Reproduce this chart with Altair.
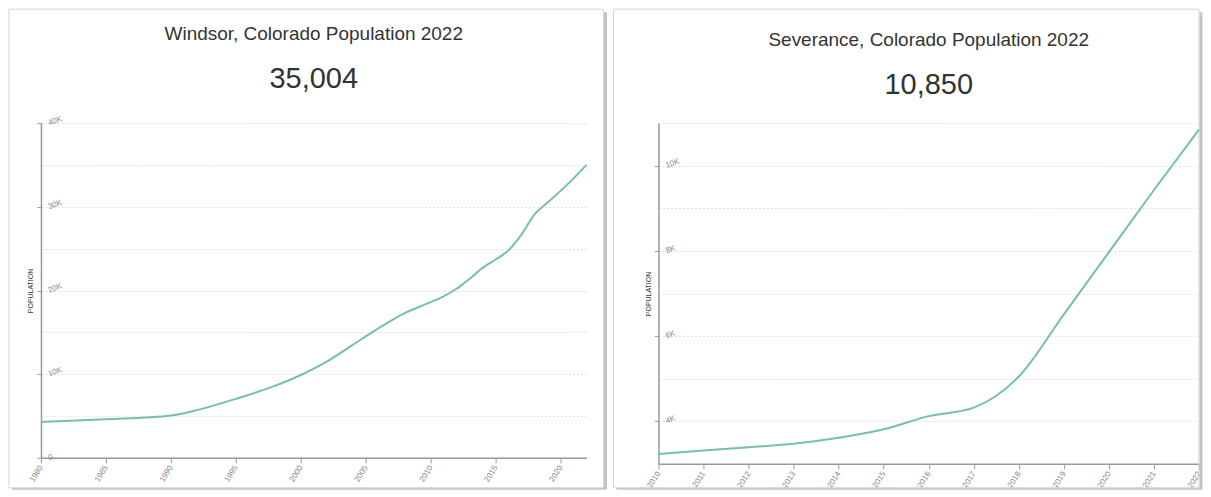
import altair as alt
import pandas as pd

# ---------------- data ----------------
windsor_years = [1980, 1985, 1990, 1992, 1995, 1998, 2000, 2002, 2004, 2006, 2008,
                 2010, 2011, 2012, 2013, 2014, 2015, 2016, 2017, 2018, 2019, 2020, 2021, 2022]
windsor_pop = [4280, 4600, 5060, 5700, 7050, 8600, 9900, 11500, 13500, 15500, 17300,
               18600, 19300, 20200, 21400, 22700, 23700, 24800, 26700, 29100, 30500, 31900, 33400, 35004]

sev_years = [2010, 2011, 2012, 2013, 2014, 2015, 2016, 2017, 2018, 2019, 2020, 2021, 2022]
sev_pop = [3230, 3310, 3390, 3470, 3610, 3810, 4120, 4320, 5050, 6510, 7970, 9430, 10850]

windsor_xticks = [1980, 1985, 1990, 1995, 2000, 2005, 2010, 2015, 2020]
sev_xticks = [2010, 2011, 2012, 2013, 2014, 2015, 2016, 2017, 2018, 2019, 2020, 2021, 2022]
windsor_ygrid = [0, 5000, 10000, 15000, 20000, 25000, 30000, 35000, 40000]
sev_ygrid = [3000, 4000, 5000, 6000, 7000, 8000, 9000, 10000, 11000]

LINE = "#74c2a1"
FONT = "Liberation Sans"


def panel(years, pops, title, big, xdom, xticks, ydom, ygrid, label_test,
          W, H, card_l, card_r, card_t, card_b, title_offset):
    df = pd.DataFrame({"year": years, "pop": pops})
    one = pd.DataFrame({"k": [0]})

    line = alt.Chart(df).mark_line(
        color=LINE, strokeWidth=2, interpolate="monotone"
    ).encode(
        x=alt.X("year:Q",
                scale=alt.Scale(domain=xdom, nice=False, zero=False),
                axis=alt.Axis(values=xticks, format="d", labelAngle=302,
                              labelAlign="right", labelBaseline="middle",
                              labelFontSize=8, labelColor="#888", labelPadding=3,
                              tickSize=5, tickColor="#999", domainColor="#999",
                              domainWidth=1.5, grid=False, title=None,
                              labelOverlap=False, labelFlush=False)),
        y=alt.Y("pop:Q",
                scale=alt.Scale(domain=ydom, nice=False, zero=False),
                axis=alt.Axis(values=ygrid,
                              labelExpr="(" + label_test + ") ? (datum.value === 0 ? '0' : datum.value / 1000 + 'K') : ''",
                              tickOpacity={"condition": {"test": label_test, "value": 1}, "value": 0},
                              grid=True, gridDash=[2, 2], gridColor="#e0e0e0",
                              labelAlign="left", labelBaseline="middle", labelAngle=340,
                              labelPadding=-11, tickSize=4, labelFontSize=8,
                              labelColor="#888", tickColor="#999", domainColor="#999",
                              domainWidth=1.5, title="POPULATION", titleFontSize=7,
                              titleColor="#333", titleFontWeight="normal", titleX=-7,
                              labelOverlap=False, labelFlush=False)),
    )

    card = alt.Chart(one).mark_rect(
        fill=None, stroke="#d4d4d4", strokeWidth=1
    ).encode(
        x=alt.value(card_l), x2=alt.value(card_r),
        y=alt.value(card_t), y2=alt.value(card_b),
    )
    shadow_r = alt.Chart(one).mark_rule(color="#c4c4c4", strokeWidth=3).encode(
        x=alt.value(card_r + 2), y=alt.value(card_t + 3), y2=alt.value(card_b + 1)
    )
    shadow_b = alt.Chart(one).mark_rule(color="#c4c4c4", strokeWidth=2).encode(
        x=alt.value(card_l + 3), x2=alt.value(card_r + 3), y=alt.value(card_b + 1)
    )

    return alt.layer(shadow_r, shadow_b, card, line).properties(
        width=W, height=H,
        title=alt.TitleParams(
            text=title, subtitle=big, fontSize=19, font=FONT, color="#333",
            fontWeight="normal", subtitleFontSize=29, subtitleColor="#333",
            subtitleFont=FONT, subtitlePadding=21, anchor="middle", frame="group",
            offset=title_offset,
        ),
    )


left = panel(windsor_years, windsor_pop, "Windsor, Colorado Population 2022", "35,004",
             [1980, 2022], windsor_xticks, [0, 40000], windsor_ygrid,
             "datum.value % 10000 === 0", 546, 335, -32, 563, -114, 365, -85)

right = panel(sev_years, sev_pop, "Severance, Colorado Population 2022", "10,850",
              [2010, 2022], sev_xticks, [3000, 11000], sev_ygrid,
              "datum.value % 2000 === 0 && datum.value >= 4000 && datum.value <= 10000",
              541, 341, -45, 541, -114, 365, -91)

chart = alt.hconcat(left, right, spacing=5).properties(
    padding=0, background="white"
).configure(font=FONT).configure_view(stroke=None)

chart.save("out.html", embed_options={"renderer": "svg", "actions": False})
